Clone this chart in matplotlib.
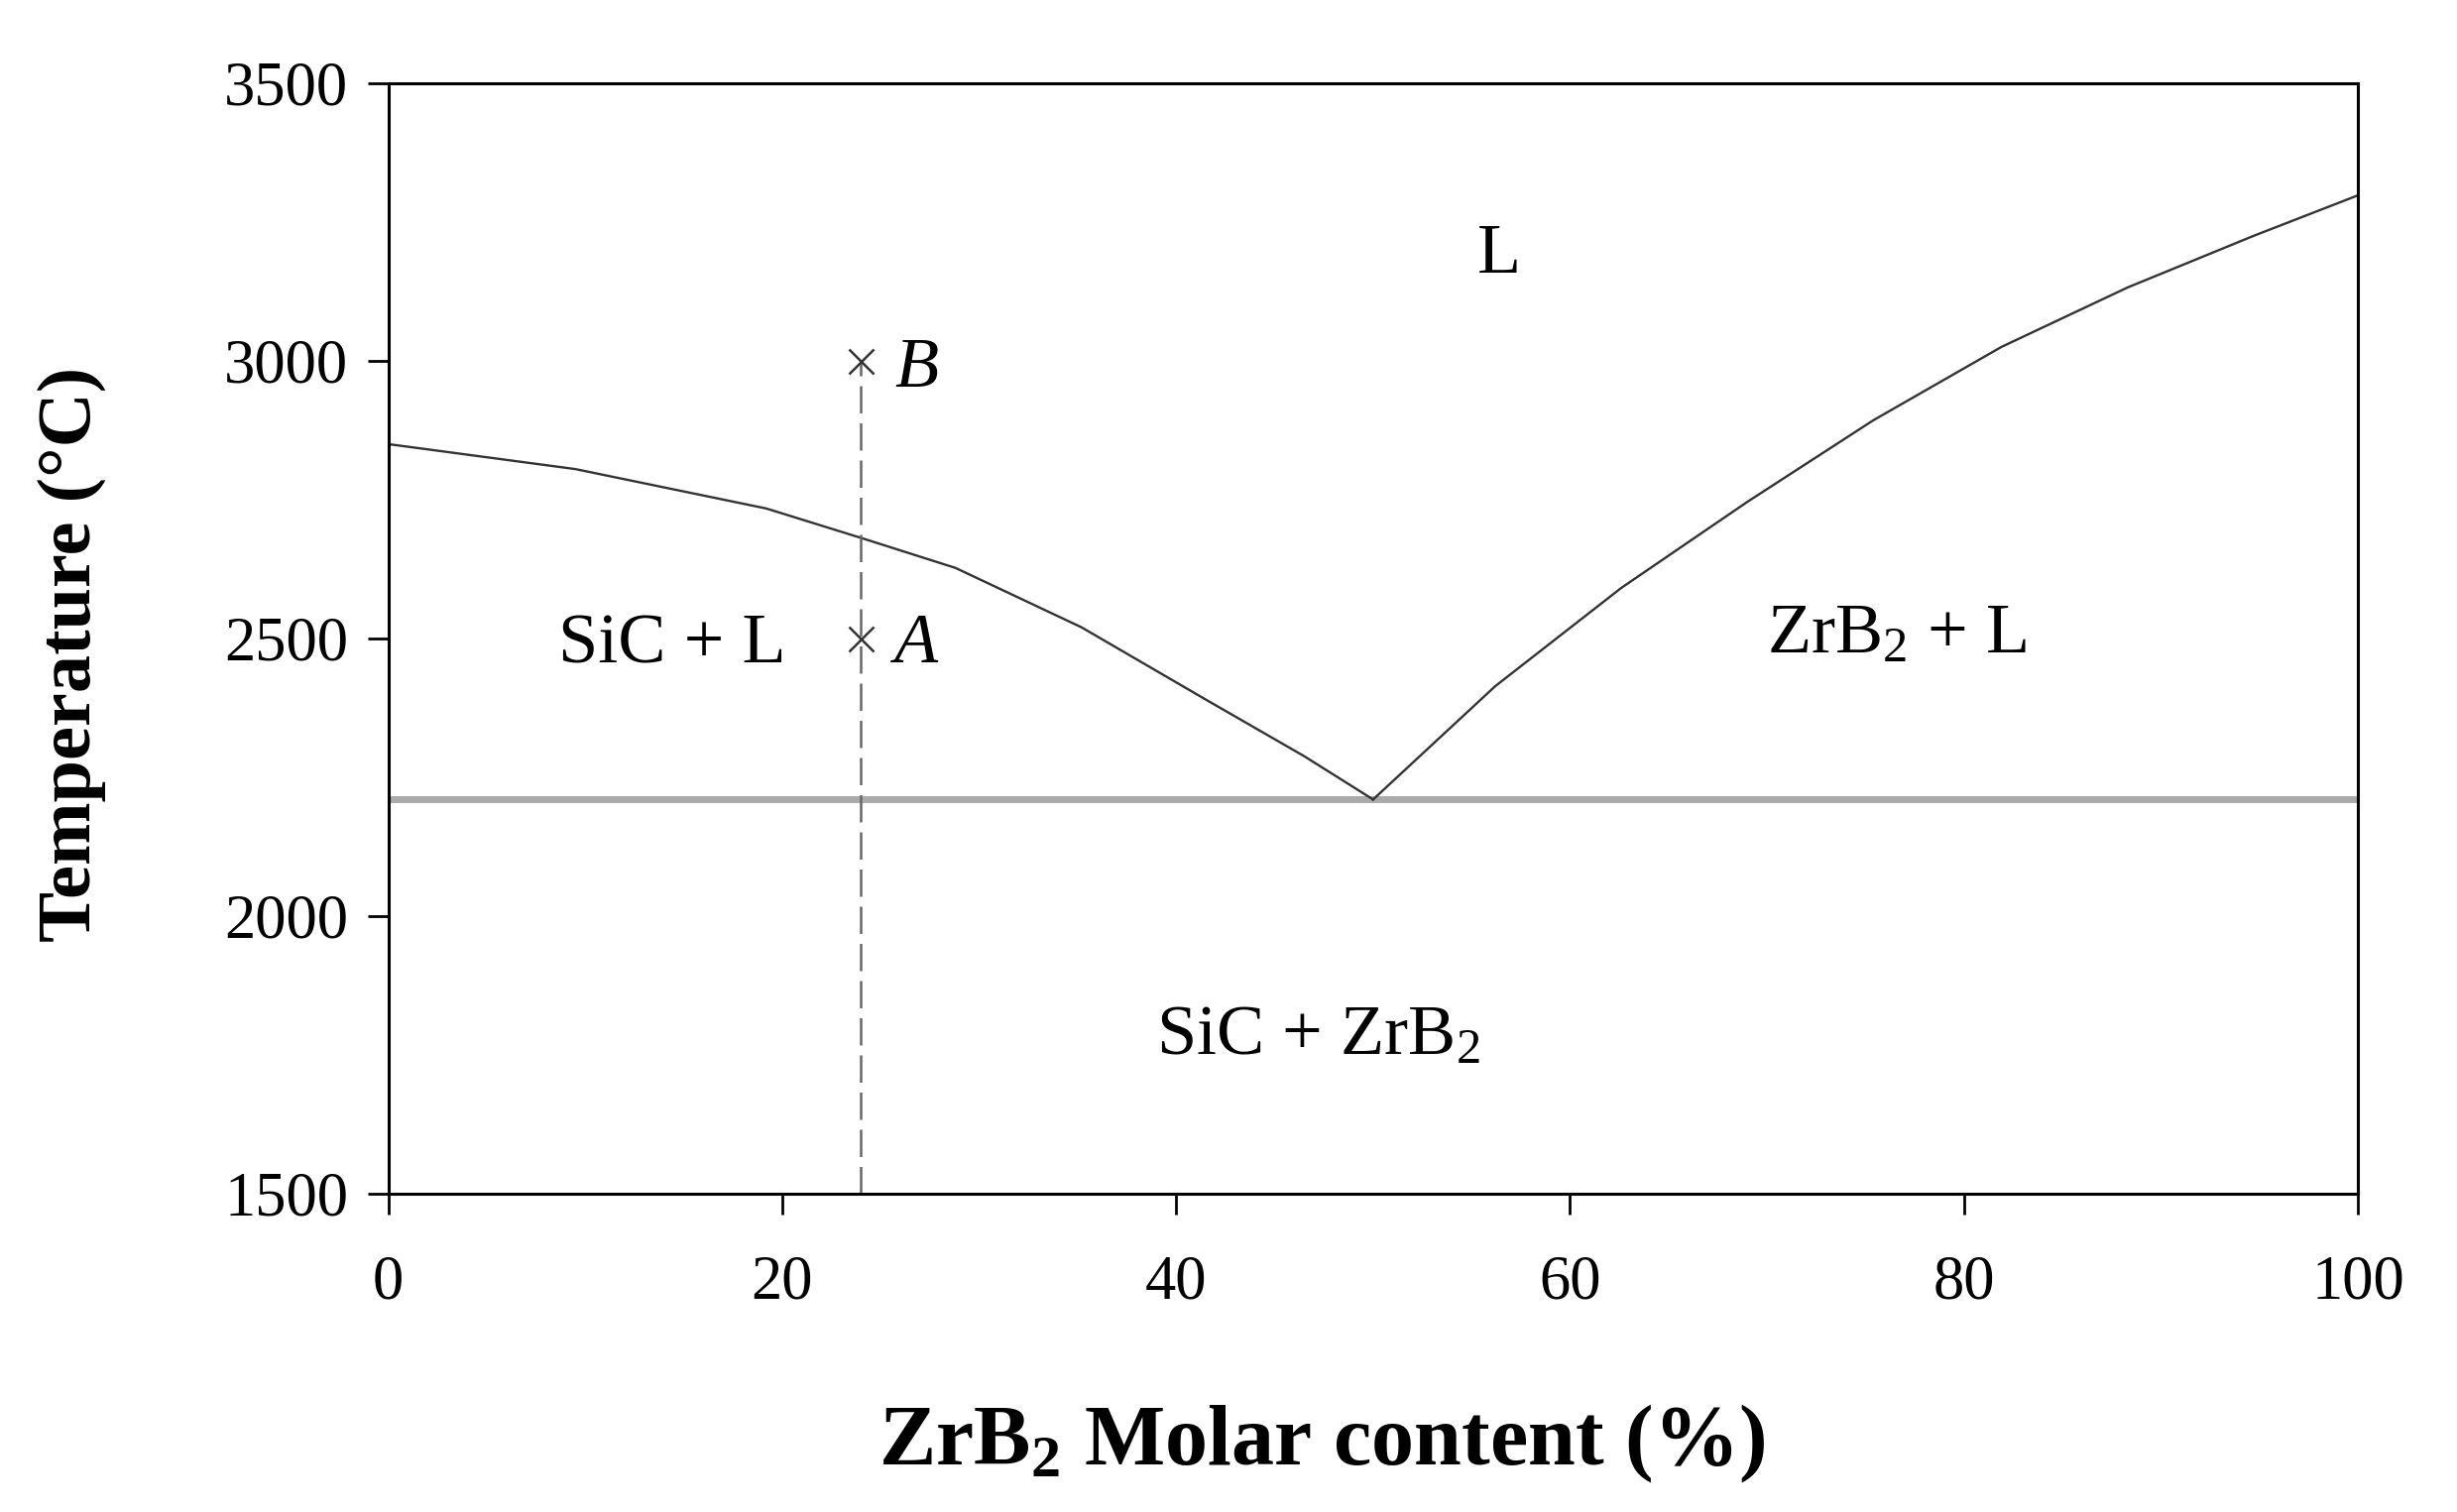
import numpy as np
import matplotlib
matplotlib.use("Agg")
import matplotlib.pyplot as plt

plt.rcParams['font.family'] = ['Liberation Serif', 'DejaVu Serif']
plt.rcParams['mathtext.fontset'] = 'custom'
plt.rcParams['mathtext.rm'] = 'Liberation Serif'
plt.rcParams['mathtext.it'] = 'Liberation Serif:italic'
plt.rcParams['mathtext.bf'] = 'Liberation Serif:bold'

# liquidus, SiC side (ZrB2 mol %, temperature C)
left_x = [0, 9.5, 19.2, 24.1, 28.8, 35.2, 41.6, 46.5, 50]
left_t = [2850, 2805, 2734, 2680, 2627, 2520, 2388, 2288, 2210]
# liquidus, ZrB2 side
right_x = [50, 56.2, 62.6, 69.0, 75.4, 81.9, 88.3, 94.7, 100]
right_t = [2210, 2414, 2591, 2746, 2893, 3025, 3132, 3225, 3298]
eutectic_t = 2210

# path of the sample
path_x = 24
point_t = [2500, 3000]
point_names = ["A", "B"]
point_label_t = [2457, 2954]

regions = ["L", "SiC + L", "ZrB$_2$ + L", "SiC + ZrB$_2$"]
region_x = [56.4, 14.4, 76.6, 47.2]
region_t = [3159, 2457, 2475, 1752]

fig = plt.figure(figsize=(24.78, 15.25), dpi=100)
ax = fig.add_axes([0.158, 0.2105, 0.8017, 0.7345])

ax.axhline(eutectic_t, color='#aaaaaa', lw=5, zorder=1)
ax.plot(left_x, left_t, color='#333333', lw=1.7, zorder=2)
ax.plot(right_x, right_t, color='#333333', lw=1.7, zorder=2)

ax.plot([path_x, path_x], [1500, max(point_t)], color='#666666', lw=1.8,
        dashes=(11, 4), zorder=2)
ax.plot([path_x] * len(point_t), point_t, linestyle='none', marker='x',
        color='#333333', ms=18, mew=1.8, zorder=3)
for t, name in zip(point_label_t, point_names):
    ax.text(path_x + 1.7, t, name, fontsize=52, style='italic',
            ha='left', va='baseline')

for name, x, t in zip(regions, region_x, region_t):
    ax.text(x, t, name, fontsize=52, ha='center', va='baseline')

ax.set_xlim(0, 100)
ax.set_ylim(1500, 3500)
ax.set_xticks([0, 20, 40, 60, 80, 100])
ax.set_yticks([1500, 2000, 2500, 3000, 3500])
ax.tick_params(axis='both', direction='out', length=15, width=2,
               labelsize=45)
ax.tick_params(axis='y', pad=14)
ax.tick_params(axis='x', pad=29)
for s in ax.spines.values():
    s.set_linewidth(2.2)

ax.set_xlabel("ZrB$_\\mathbf{2}$ Molar content (%)", fontsize=62,
              fontweight='bold', va='baseline')
ax.xaxis.set_label_coords(0.474, -0.244)
ax.set_ylabel("Temperature (°C)", fontsize=55, fontweight='bold',
              va='center')
ax.yaxis.set_label_coords(-0.1606, 0.486)

fig.savefig("out.png", dpi=100)
